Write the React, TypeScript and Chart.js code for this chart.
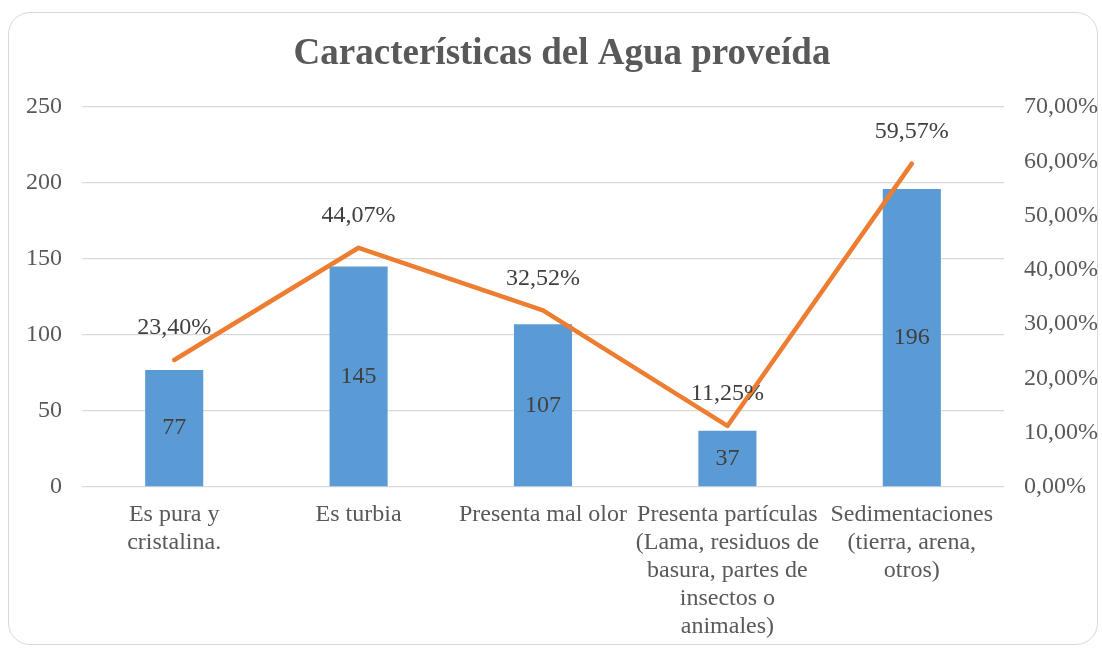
import React, { useEffect, useRef } from "react";
import { Chart, registerables } from "chart.js";

Chart.register(...registerables);

const categories: string[][] = [
  ["Es pura y", "cristalina."],
  ["Es turbia"],
  ["Presenta mal olor"],
  ["Presenta partículas", "(Lama, residuos de", "basura, partes de", "insectos o", "animales)"],
  ["Sedimentaciones", "(tierra, arena,", "otros)"],
];
const counts: number[] = [77, 145, 107, 37, 196];
const percents: number[] = [23.4, 44.07, 32.52, 11.25, 59.57];
const titleText = "Características del Agua proveída";

const FONT = "'Liberation Serif', 'Times New Roman', serif";
const fmtPct = (v: number) => v.toFixed(2).replace(".", ",") + "%";

const labelPlugin = {
  id: "valueLabels",
  afterDatasetsDraw(chart: any) {
    const ctx = chart.ctx;
    ctx.save();
    ctx.font = `24px ${FONT}`;
    ctx.fillStyle = "#404040";
    ctx.textAlign = "center";
    ctx.textBaseline = "middle";
    const barMeta = chart.getDatasetMeta(1);
    barMeta.data.forEach((el: any, i: number) => {
      ctx.fillText(String(counts[i]), el.x, (el.y + el.base) / 2);
    });
    const lineMeta = chart.getDatasetMeta(0);
    lineMeta.data.forEach((el: any, i: number) => {
      ctx.fillText(fmtPct(percents[i]), el.x, el.y - 32);
    });
    ctx.restore();
  },
};

export default function App() {
  const ref = useRef<HTMLCanvasElement | null>(null);
  useEffect(() => {
    if (!ref.current) return;
    const chart = new Chart(ref.current, {
      type: "bar",
      data: {
        labels: categories,
        datasets: [
          {
            type: "line",
            label: "Porcentaje",
            data: percents,
            yAxisID: "y1",
            borderColor: "#ED7D31",
            backgroundColor: "#ED7D31",
            borderWidth: 4.5,
            pointRadius: 0,
            borderCapStyle: "round",
            borderJoinStyle: "round",
            tension: 0,
            order: 0,
          } as any,
          {
            type: "bar",
            label: "Frecuencia",
            data: counts,
            yAxisID: "y",
            backgroundColor: "#5B9BD5",
            barPercentage: 0.315,
            categoryPercentage: 1,
            order: 1,
          },
        ],
      },
      options: {
        animation: false,
        responsive: false,
        maintainAspectRatio: false,
        layout: { padding: { left: 22, right: 0, top: 0, bottom: 0 } },
        plugins: {
          legend: { display: false },
          tooltip: { enabled: false },
          title: {
            display: true,
            text: titleText,
            color: "#595959",
            font: { family: FONT, size: 37, weight: "bold", lineHeight: 1.2 },
            padding: { top: 32, bottom: 30.6 },
          },
        },
        scales: {
          x: {
            grid: { display: false, drawTicks: false },
            border: { display: false },
            ticks: {
              color: "#595959",
              font: { family: FONT, size: 24, lineHeight: 28 / 24 },
              padding: 14,
              maxRotation: 0,
              autoSkip: false,
            },
            afterFit(scale: any) {
              scale.height = 161;
            },
          },
          y: {
            position: "left",
            min: 0,
            max: 250,
            grid: { color: "#D9D9D9", lineWidth: 1.3, drawTicks: false },
            border: { display: false },
            ticks: {
              stepSize: 50,
              color: "#595959",
              font: { family: FONT, size: 24 },
              padding: 20,
            },
            afterFit(scale: any) {
              scale.width = 60;
            },
          },
          y1: {
            position: "right",
            min: 0,
            max: 70,
            grid: { display: false, drawOnChartArea: false, drawTicks: false },
            border: { display: false },
            ticks: {
              stepSize: 10,
              color: "#595959",
              font: { family: FONT, size: 24 },
              padding: 20,
              callback: (v: any) => fmtPct(Number(v)),
            },
            afterFit(scale: any) {
              scale.width = 98;
            },
          },
        },
      } as any,
      plugins: [labelPlugin],
    });
    return () => chart.destroy();
  }, []);

  return (
    <div
      style={{
        position: "absolute",
        left: 0,
        top: 0,
        width: 1102,
        height: 648,
        background: "#ffffff",
        overflow: "hidden",
      }}
    >
      <div
        style={{
          position: "absolute",
          left: 8,
          top: 12,
          width: 1090,
          height: 633,
          boxSizing: "border-box",
          border: "1.5px solid #D9D9D9",
          borderRadius: 22,
        }}
      />
      <canvas
        ref={ref}
        width={1102}
        height={648}
        style={{ position: "absolute", left: 0, top: 0, width: 1102, height: 648 }}
      />
    </div>
  );
}
